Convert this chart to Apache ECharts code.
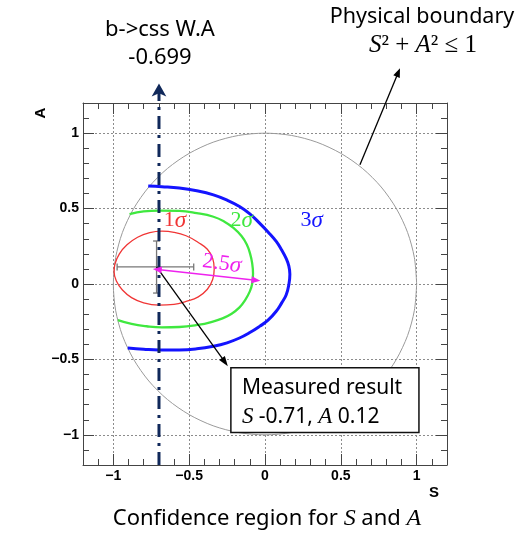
<!DOCTYPE html>
<html><head><meta charset="utf-8">
<script src="https://cdn.jsdelivr.net/npm/echarts@6/dist/echarts.min.js"></script>
<style>html,body{margin:0;padding:0;background:#fff}#c{width:525px;height:533px}</style>
</head><body><div id="c"></div>
<script>
// ---------- data ----------
const tickLabels = [-1, -0.5, 0, 0.5, 1];
const axisMin = -1.2, axisMax = 1.2;

// physical boundary S^2 + A^2 = 1 (points read around the unit circle, 10 deg steps)
const circleS = [1, .985, .940, .866, .766, .643, .5, .342, .174, 0, -.174, -.342, -.5, -.643, -.766, -.866, -.940, -.985, -1,
  -.985, -.940, -.866, -.766, -.643, -.5, -.342, -.174, 0, .174, .342, .5, .643, .766, .866, .940, .985, 1];
const circleA = [0, .174, .342, .5, .643, .766, .866, .940, .985, 1, .985, .940, .866, .766, .643, .5, .342, .174, 0,
  -.174, -.342, -.5, -.643, -.766, -.866, -.940, -.985, -1, -.985, -.940, -.866, -.766, -.643, -.5, -.342, -.174, 0];

// 1 sigma contour (closed)
const sigma1 = [[-0.335, 0.10], [-0.345, 0.17], [-0.38, 0.23], [-0.44, 0.275], [-0.52, 0.32], [-0.60, 0.343], [-0.68, 0.35],
  [-0.76, 0.34], [-0.84, 0.31], [-0.91, 0.26], [-0.96, 0.20], [-0.99, 0.13], [-0.995, 0.08], [-0.98, 0.02], [-0.94, -0.04],
  [-0.88, -0.09], [-0.80, -0.125], [-0.70, -0.14], [-0.60, -0.135], [-0.52, -0.115], [-0.44, -0.085], [-0.38, -0.035],
  [-0.345, 0.03], [-0.335, 0.10]];
// 2 sigma contour (clipped by the boundary)
const sigma2 = [[-0.893, 0.463], [-0.80, 0.482], [-0.695, 0.487], [-0.565, 0.485], [-0.45, 0.47], [-0.34, 0.446], [-0.27, 0.415],
  [-0.208, 0.372], [-0.155, 0.318], [-0.12, 0.262], [-0.098, 0.20], [-0.085, 0.14], [-0.079, 0.07], [-0.085, 0.0], [-0.10, -0.049],
  [-0.13, -0.105], [-0.168, -0.155], [-0.22, -0.197], [-0.28, -0.228], [-0.36, -0.254], [-0.433, -0.27], [-0.565, -0.285],
  [-0.68, -0.287], [-0.78, -0.28], [-0.88, -0.265], [-0.97, -0.24]];
// 3 sigma contour (clipped by the boundary)
const sigma3 = [[-0.77, 0.650], [-0.68, 0.645], [-0.565, 0.636], [-0.45, 0.618], [-0.34, 0.591], [-0.25, 0.556], [-0.168, 0.514],
  [-0.10, 0.465], [-0.036, 0.404], [0.02, 0.345], [0.074, 0.282], [0.11, 0.225], [0.14, 0.168], [0.157, 0.12], [0.164, 0.065],
  [0.158, 0.0], [0.14, -0.071], [0.11, -0.125], [0.074, -0.181], [0.02, -0.24], [-0.036, -0.281], [-0.10, -0.322],
  [-0.168, -0.358], [-0.25, -0.39], [-0.34, -0.413], [-0.45, -0.43], [-0.565, -0.437], [-0.70, -0.437], [-0.80, -0.432], [-0.905, -0.424]];

// measured result with error bars: [S, A, S low, S high, A low, A high]
const measured = [[-0.715, 0.113, -0.975, -0.47, -0.06, 0.285]];
// b->css world average
const bcssWA = -0.699;
const bcssLine = [[bcssWA, -1.2], [bcssWA, 1.33]];
// 2.5 sigma arrow ends
const arrow25 = [[-0.74, 0.10], [-0.03, 0.022]];

// ---------- annotation anchors (data coords) ----------
const boundaryArrowFrom = [0.626, 0.79], boundaryArrowTo = [0.89, 1.43];
const measArrowTo = [-0.245, -0.545];
const boxTL = [-0.225, -0.555], boxBR = [1.015, -0.985];
const lab1 = [-0.594, 0.42], lab2 = [-0.154, 0.42], lab3 = [0.308, 0.42], lab25 = [-0.285, 0.135];

const textFont = '"Noto Sans", "Open Sans", sans-serif';
const mathFont = '"Liberation Serif", "DejaVu Serif", serif';
const axFont = '"Liberation Sans", Arial, sans-serif';

const chart = echarts.init(document.getElementById('c'));
const gridLine = {show: true, lineStyle: {color: '#8c8c8c', width: 1, type: [2, 2]}};
const fmt = v => tickLabels.some(t => Math.abs(t - v) < 1e-9) ? (v < 0 ? '\u2212' : '') + Math.abs(v) : '';
function axis(pos, withLabels) {
  return {
    type: 'value', position: pos, min: axisMin, max: axisMax, splitNumber: 5,
    axisLine: {show: true, onZero: false, lineStyle: {color: '#444', width: 1}},
    axisTick: {show: true, inside: true, length: 11, lineStyle: {color: '#444', width: 1}},
    minorTick: {show: true, splitNumber: 5, length: 6, lineStyle: {color: '#444', width: 1}},
    splitLine: withLabels ? gridLine : {show: false},
    minorSplitLine: {show: false},
    axisLabel: withLabels ? {show: true, showMinLabel: false, showMaxLabel: false, margin: 4, color: '#000',
      fontFamily: axFont, fontWeight: 'bold', fontSize: 14, formatter: fmt} : {show: false}
  };
}

chart.setOption({
  animation: false,
  grid: {left: 83, top: 103, width: 364, height: 362, containLabel: false},
  xAxis: [axis('bottom', true), axis('top', false)],
  yAxis: [axis('left', true), axis('right', false)],
  series: [
    {type: 'line', data: circleS.map((s, i) => [s, circleA[i]]), showSymbol: false, smooth: 0.3, silent: true,
      lineStyle: {color: '#9a9a9a', width: 1}, z: 2},
    {type: 'line', data: sigma3, showSymbol: false, smooth: 0.45, silent: true, lineStyle: {color: '#1414ff', width: 3}, z: 3},
    {type: 'line', data: sigma2, showSymbol: false, smooth: 0.45, silent: true, lineStyle: {color: '#3fe83f', width: 2.3}, z: 3},
    {type: 'line', data: sigma1, showSymbol: false, smooth: 0.45, silent: true, lineStyle: {color: '#f03535', width: 1.3}, z: 3},
    {type: 'custom', data: measured, silent: true, z: 4,
      renderItem: function (params, api) {
        const l = api.coord([api.value(2), api.value(1)]), r = api.coord([api.value(3), api.value(1)]);
        const b = api.coord([api.value(0), api.value(4)]), t = api.coord([api.value(0), api.value(5)]);
        const st = {stroke: '#777', lineWidth: 1.3};
        const cap = 3.5;
        return {type: 'group', children: [
          {type: 'line', shape: {x1: l[0], y1: l[1], x2: r[0], y2: r[1]}, style: st},
          {type: 'line', shape: {x1: b[0], y1: b[1], x2: t[0], y2: t[1]}, style: st},
          {type: 'line', shape: {x1: l[0], y1: l[1] - cap, x2: l[0], y2: l[1] + cap}, style: st},
          {type: 'line', shape: {x1: r[0], y1: r[1] - cap, x2: r[0], y2: r[1] + cap}, style: st},
          {type: 'line', shape: {x1: b[0] - cap, y1: b[1], x2: b[0] + cap, y2: b[1]}, style: st},
          {type: 'line', shape: {x1: t[0] - cap, y1: t[1], x2: t[0] + cap, y2: t[1]}, style: st}
        ]};
      }},
    {type: 'line', clip: false, silent: true, z: 6,
      data: [{value: bcssLine[0], symbol: 'none'}, {value: bcssLine[1], symbol: 'arrow', symbolSize: [11, 13]}],
      showSymbol: true, lineStyle: {color: '#10285a', width: 3, type: [13, 6, 3, 6]},
      itemStyle: {color: '#10285a'}}
  ]
});

// ---------- annotations ----------
const P = d => chart.convertToPixel({xAxisIndex: 0, yAxisIndex: 0}, d);
function arrow(p0, p1, color, lw, hl, hw, both) {
  const dx = p1[0] - p0[0], dy = p1[1] - p0[1], L = Math.hypot(dx, dy), ux = dx / L, uy = dy / L;
  const head = (tip, vx, vy) => ({type: 'polygon', z: 100,
    shape: {points: [tip, [tip[0] - vx * hl - vy * hw, tip[1] - vy * hl + vx * hw], [tip[0] - vx * hl + vy * hw, tip[1] - vy * hl - vx * hw]]},
    style: {fill: color}});
  const s = both ? [p0[0] + ux * hl * 0.8, p0[1] + uy * hl * 0.8] : p0;
  const e = [p1[0] - ux * hl * 0.8, p1[1] - uy * hl * 0.8];
  const els = [{type: 'line', z: 100, shape: {x1: s[0], y1: s[1], x2: e[0], y2: e[1]}, style: {stroke: color, lineWidth: lw}}, head(p1, ux, uy)];
  if (both) els.push(head(p0, -ux, -uy));
  return els;
}
const bTL = P(boxTL), bBR = P(boxBR);
const corner = P([axisMax, axisMin]), cornerTL = P([axisMin, axisMax]);
const pm = P([measured[0][0], measured[0][1]]);
const g = [];
g.push(...arrow(P(boundaryArrowFrom), P(boundaryArrowTo), '#000', 1.3, 9, 3.5, false));
g.push(...arrow(pm, P(measArrowTo), '#000', 1.3, 10, 3.5, false));
g.push(...arrow(P(arrow25[0]), P(arrow25[1]), '#ee22ee', 1.5, 9, 3.5, true));
g.push({type: 'rect', z: 101, shape: {x: bTL[0], y: bTL[1], width: bBR[0] - bTL[0], height: bBR[1] - bTL[1]},
  style: {fill: '#fff', stroke: '#111', lineWidth: 1.5}});
g.push({type: 'text', z: 102, x: bTL[0] + 11, y: bTL[1] + 20, style: {text: 'Measured result', fontFamily: textFont, fontSize: 21,
  fill: '#000', verticalAlign: 'middle', align: 'left'}});
g.push({type: 'text', z: 102, x: bTL[0] + 11, y: bTL[1] + 49, style: {
  text: '{i|S}{n| -0.71, }{i|A}{n| 0.12}', verticalAlign: 'middle', align: 'left', fill: '#000',
  rich: {i: {fontFamily: mathFont, fontStyle: 'italic', fontSize: 23, fill: '#000'}, n: {fontFamily: textFont, fontSize: 21, fill: '#000'}}}});
function sig(pos, num, color, rot) {
  const p = P(pos);
  return {type: 'text', z: 100, x: p[0], y: p[1], rotation: rot || 0, style: {text: '{n|' + num + '}{s|σ}', align: 'center', verticalAlign: 'middle',
    rich: {n: {fontFamily: mathFont, fontSize: 22, fill: color}, s: {fontFamily: mathFont, fontStyle: 'italic', fontSize: 23, fill: color}}}};
}
g.push(sig(lab1, '1', '#f03535'), sig(lab2, '2', '#3fe83f'), sig(lab3, '3', '#1414ff'), sig(lab25, '2.5', '#ee22ee', -8 * Math.PI / 180));
const pb = P([bcssWA, axisMax]);
g.push({type: 'text', x: pb[0] + 1, y: 30, style: {text: 'b->css W.A', fontFamily: textFont, fontSize: 22, fill: '#000', align: 'center', verticalAlign: 'middle'}});
g.push({type: 'text', x: pb[0] + 1, y: 58, style: {text: String(bcssWA), fontFamily: textFont, fontSize: 22, fill: '#000', align: 'center', verticalAlign: 'middle'}});
g.push({type: 'text', x: 422, y: 17, style: {text: 'Physical boundary', fontFamily: textFont, fontSize: 21.5, fill: '#000', align: 'center', verticalAlign: 'middle'}});
g.push({type: 'text', x: 423, y: 45, style: {text: '{i|S}{n|² + }{i|A}{n|² ≤ 1}', align: 'center', verticalAlign: 'middle',
  rich: {i: {fontFamily: mathFont, fontStyle: 'italic', fontSize: 25, fill: '#000'}, n: {fontFamily: mathFont, fontSize: 25, fill: '#000'}}}});
g.push({type: 'text', x: 267, y: 519, style: {text: '{n|Confidence region for }{i|S}{n| and }{i|A}', align: 'center', verticalAlign: 'middle',
  rich: {i: {fontFamily: mathFont, fontStyle: 'italic', fontSize: 24, fill: '#000'}, n: {fontFamily: textFont, fontSize: 22, fill: '#000'}}}});
g.push({type: 'text', x: corner[0] - 13, y: corner[1] + 28, style: {text: 'S', fontFamily: axFont, fontWeight: 'bold', fontSize: 15, fill: '#000', align: 'center', verticalAlign: 'middle'}});
g.push({type: 'text', x: cornerTL[0] - 42, y: cornerTL[1] + 10, rotation: Math.PI / 2, style: {text: 'A', fontFamily: axFont, fontWeight: 'bold', fontSize: 15, fill: '#000', align: 'center', verticalAlign: 'middle'}});
chart.setOption({graphic: g});
</script>
</body></html>
